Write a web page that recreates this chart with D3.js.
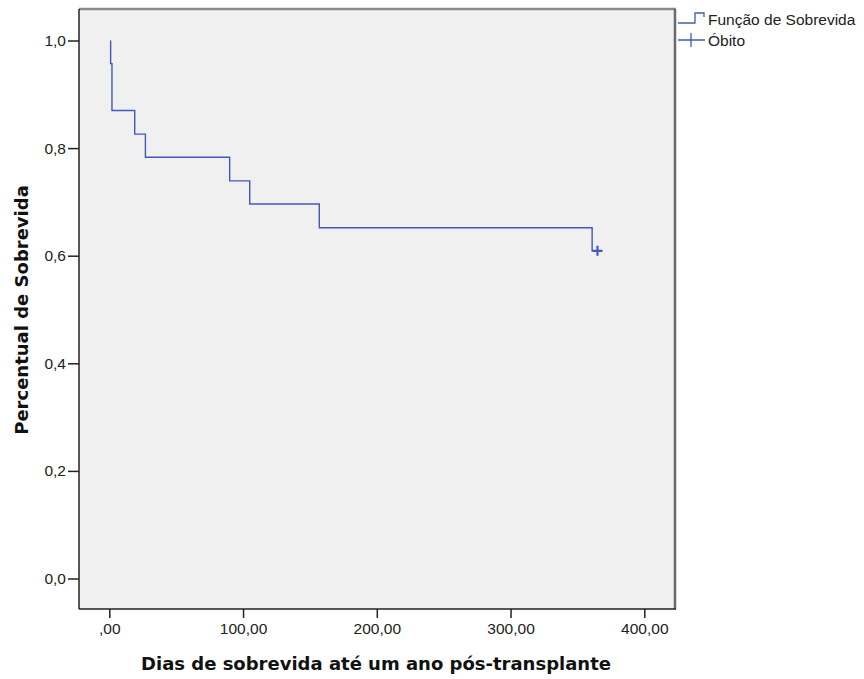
<!DOCTYPE html>
<html>
<head>
<meta charset="utf-8">
<script src="https://cdn.jsdelivr.net/npm/d3@7"></script>
<style>
  html, body { margin: 0; padding: 0; background: #fff; }
  text { fill: #222; }
</style>
</head>
<body>
<svg id="chart" width="864" height="679"></svg>
<script>
// Kaplan-Meier survival estimate (one-year post-transplant follow-up)
const eventDays = [1, 2, 19, 27, 90, 105, 157, 361];
const survival  = [0.957, 0.870, 0.826, 0.783, 0.739, 0.696, 0.652, 0.609];
const censoredDays = [365];
const censoredSurvival = [0.609];

const xTicks = [0, 100, 200, 300, 400];
const yTicks = [0, 0.2, 0.4, 0.6, 0.8, 1.0];
const xTickLabels = [",00", "100,00", "200,00", "300,00", "400,00"];
const yTickLabels = ["0,0", "0,2", "0,4", "0,6", "0,8", "1,0"];
const legendLabels = ["Função de Sobrevida", "Óbito"];

const svg = d3.select("#chart");
const frame = { left: 79, top: 9, right: 675, bottom: 609 };
const lineColor = "#4159b8";
const sans = "'Liberation Sans', Arial, sans-serif";
const boldFace = "'DejaVu Sans', Verdana, sans-serif";

const x = d3.scaleLinear().domain([0, 400]).range([109.3, 644.3]);
const y = d3.scaleLinear().domain([0, 1]).range([578.5, 40.5]);

// plot background and frame
svg.append("rect")
  .attr("x", frame.left).attr("y", frame.top)
  .attr("width", frame.right - frame.left).attr("height", frame.bottom - frame.top)
  .attr("fill", "#f0f0f0");
svg.append("line").attr("x1", frame.left).attr("x2", frame.right + 1)
  .attr("y1", frame.top).attr("y2", frame.top)
  .attr("stroke", "#8a8a8a").attr("stroke-width", 2.5);
svg.append("line").attr("x1", frame.right).attr("x2", frame.right)
  .attr("y1", frame.top).attr("y2", frame.bottom)
  .attr("stroke", "#6a6a6a").attr("stroke-width", 2.5);
svg.append("line").attr("x1", frame.left).attr("x2", frame.left)
  .attr("y1", frame.top).attr("y2", frame.bottom)
  .attr("stroke", "#222").attr("stroke-width", 1.5);
svg.append("line").attr("x1", frame.left).attr("x2", frame.right + 1)
  .attr("y1", frame.bottom).attr("y2", frame.bottom)
  .attr("stroke", "#222").attr("stroke-width", 1.5);

// axes
const yAxis = d3.axisLeft(y).tickValues(yTicks).tickSize(11).tickPadding(2)
  .tickFormat((d, i) => yTickLabels[i]);
const gy = svg.append("g").attr("transform", `translate(${frame.left},0)`).call(yAxis);
gy.select(".domain").remove();
gy.selectAll(".tick line").attr("stroke", "#222").attr("stroke-width", 1.5);
gy.selectAll(".tick text").style("font-size", "15.5px").style("fill", "#222")
  .style("font-family", sans);

const xAxis = d3.axisBottom(x).tickValues(xTicks).tickSize(9).tickPadding(5)
  .tickFormat((d, i) => xTickLabels[i]);
const gx = svg.append("g").attr("transform", `translate(0,${frame.bottom})`).call(xAxis);
gx.select(".domain").remove();
gx.selectAll(".tick line").attr("stroke", "#222").attr("stroke-width", 1.5);
gx.selectAll(".tick text").style("font-size", "15.5px").style("fill", "#222")
  .style("font-family", sans);

// survival step curve
const pts = [[eventDays[0], 1.0]];
eventDays.forEach((d, i) => pts.push([d, survival[i]]));
pts.push([censoredDays[0], censoredSurvival[0]]);
const line = d3.line().x(d => x(d[0])).y(d => y(d[1])).curve(d3.curveStepAfter);
svg.append("path").datum(pts)
  .attr("d", line).attr("fill", "none")
  .attr("stroke", lineColor).attr("stroke-width", 1.4);

// censored marks
svg.selectAll(".cens").data(censoredDays).enter().append("path")
  .attr("class", "cens")
  .attr("d", (d, i) => {
    const cx = x(d), cy = y(censoredSurvival[i]);
    return `M${cx - 5},${cy}H${cx + 5}M${cx},${cy - 5}V${cy + 5}`;
  })
  .attr("stroke", lineColor).attr("stroke-width", 2.2);

// axis titles
svg.append("text")
  .attr("x", 376).attr("y", 670)
  .attr("text-anchor", "middle")
  .style("font-family", boldFace)
  .style("font-weight", "bold").style("font-size", "18px")
  .style("fill", "#111")
  .text("Dias de sobrevida até um ano pós-transplante");
svg.append("text")
  .attr("transform", "translate(27.5,310) rotate(-90)")
  .attr("text-anchor", "middle")
  .style("font-family", boldFace)
  .style("font-weight", "bold").style("font-size", "18px")
  .style("fill", "#111")
  .text("Percentual de Sobrevida");

// legend
const lg = svg.append("g");
lg.append("path").attr("d", "M678,23H695V13H704V17")
  .attr("fill", "none").attr("stroke", lineColor).attr("stroke-width", 1.3);
lg.append("path").attr("d", "M678,40H705M691,33V47")
  .attr("fill", "none").attr("stroke", lineColor).attr("stroke-width", 1.3);
lg.selectAll("text").data(legendLabels).enter().append("text")
  .attr("x", 708).attr("y", (d, i) => 25 + i * 21)
  .style("font-family", sans)
  .style("font-size", "15.5px").style("fill", "#222")
  .text(d => d);
</script>
</body>
</html>
